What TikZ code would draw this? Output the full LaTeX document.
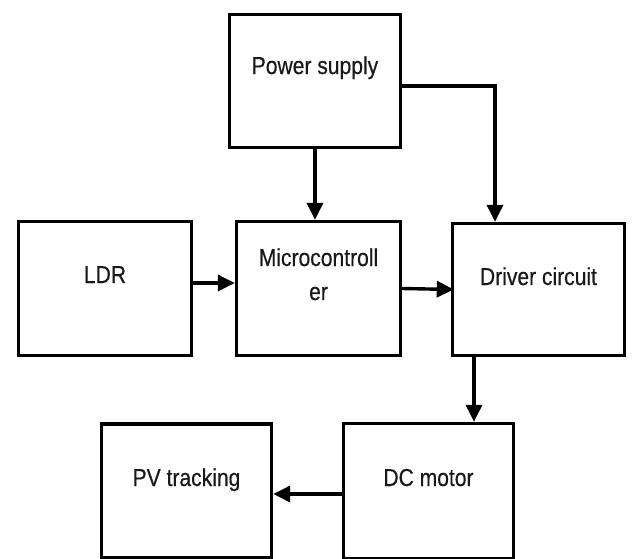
\documentclass[tikz,border=0pt]{standalone}
\usepackage{fontspec}
\setmainfont{Liberation Sans}[FakeStretch=0.86,FakeBold=0.4]
\usetikzlibrary{arrows.meta}
\begin{document}
\begin{tikzpicture}[x=1pt,y=-1pt,
  blockbox/.style={draw=black, line width=3.4pt, rectangle, inner sep=0pt},
  lbl/.style={anchor=base, font=\fontsize{24.5}{34}\selectfont, text=black!90, inner sep=0pt},
  conn/.style={line width=3.4pt, -{Triangle[length=17pt,width=16pt]}}]
\useasboundingbox (0,0) rectangle (633,558);
% boxes
\node[blockbox, minimum width=171pt, minimum height=133pt] (ps) at (315,81) {};
\node[blockbox, minimum width=173pt, minimum height=134pt] (ldr) at (105,288.5) {};
\node[blockbox, minimum width=164pt, minimum height=134pt] (mc) at (318.5,288.5) {};
\node[blockbox, minimum width=172pt, minimum height=132pt] (dc) at (538.5,289.5) {};
\node[blockbox, minimum width=170pt, minimum height=134pt] (pv) at (186.5,491) {};
\node[blockbox, minimum width=170pt, minimum height=135pt] (dm) at (428.5,491) {};
% labels
\node[lbl] (pst) at (315,74) {Power supply};
\node[lbl] (ldrt) at (105,283) {LDR};
\node[lbl] (mct1) at (318.5,266) {Microcontroll};
\node[lbl] (mct2) at (318.5,300) {er};
\node[lbl] (dct) at (538.5,285) {Driver circuit};
\node[lbl] (pvt) at (186.5,486) {PV tracking};
\node[lbl] (dmt) at (428.5,486) {DC motor};
% connectors
\draw[conn] (ps.south) -- (ps.south |- mc.north);
\draw[conn] ([yshift=-5pt]ps.east) -| ([xshift=-43.5pt]dc.north);
\draw[conn] ([yshift=5.5pt]ldr.east) -- ([yshift=5.5pt]mc.west);
\draw[conn] (mc.east) -- ([xshift=3pt]dc.west);
\draw[conn] ([xshift=-64.5pt]dc.south) -- ([xshift=45.5pt]dm.north);
\draw[conn] ([yshift=-3pt]dm.west) -- ([yshift=-3pt]pv.east);
\end{tikzpicture}
\end{document}
